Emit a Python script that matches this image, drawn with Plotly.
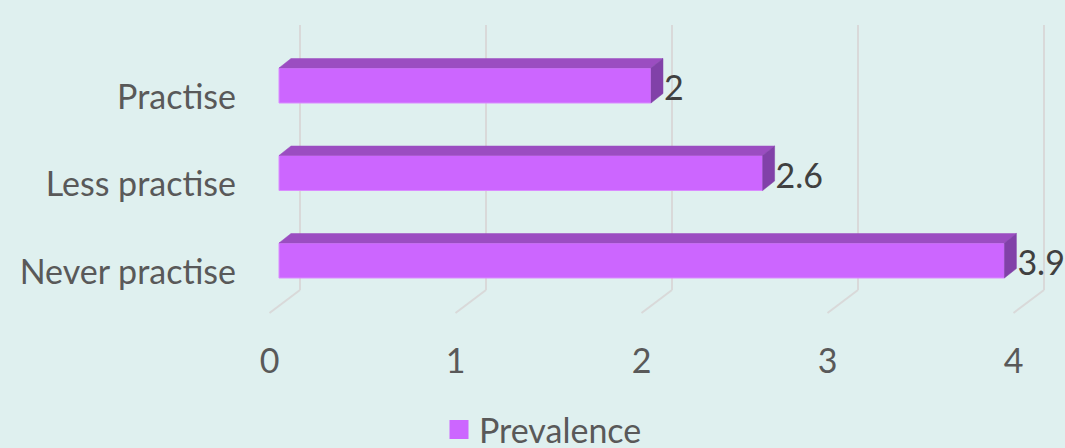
import plotly.graph_objects as go

# ---- data ----
categories = ["Never practise", "Less practise", "Practise"]
values = [3.9, 2.6, 2]
value_labels = ["3.9", "2.6", "2"]
x_ticks = [0, 1, 2, 3, 4]
series_name = "Prevalence"

# ---- styling / geometry ----
W, H = 1065, 448
L, R, T, B = 245, 0, 0, 118
pw, ph = W - L - R, H - T - B
PXU = 186.0            # pixels per x unit
PYU = 87.5             # pixels per category step
X0 = -(269.5 - L) / PXU
X1 = X0 + pw / PXU
Y1 = 2 + 97 / PYU
Y0 = Y1 - ph / PYU

def ux(px):
    return px / PXU

def uy(px):
    return px / PYU

def ypix(p):
    return Y1 - p / PYU

BG = "#DFF0EF"
FRONT = "#CC66FF"
TOP = "#9B4DC1"
SIDE = "#8141A8"
GRID = "#D9D9D9"
TXT = "#595959"
FONT = "Lato"
FS = 34

fig = go.Figure()

# back-wall gridlines + floor diagonals (from tick values), drawn below the bars
shapes = []
for k in x_ticks:
    xb = k + ux(30.5)
    shapes.append(dict(type="line", xref="x", yref="y", layer="below",
                       x0=xb, x1=xb, y0=ypix(25), y1=ypix(290),
                       line=dict(color=GRID, width=2)))
    shapes.append(dict(type="line", xref="x", yref="y", layer="below",
                       x0=xb, x1=k, y0=ypix(290), y1=ypix(313),
                       line=dict(color=GRID, width=2)))

base = ux(9.5)
bw = uy(35)
dx, dy = ux(12), uy(9.5)
ypos = [i + uy(11.5) for i in range(len(categories))]

# 3D top and side faces
for yc, v in zip(ypos, values):
    yt, yb = yc + bw / 2, yc - bw / 2
    fig.add_trace(go.Scatter(
        x=[base, base + dx, base + v + dx, base + v, base],
        y=[yt, yt + dy, yt + dy, yt, yt],
        fill="toself", fillcolor=TOP, mode="lines",
        line=dict(color=TOP, width=0.5), hoverinfo="skip", showlegend=False))
    fig.add_trace(go.Scatter(
        x=[base + v, base + v + dx, base + v + dx, base + v, base + v],
        y=[yt, yt + dy, yb + dy, yb, yt],
        fill="toself", fillcolor=SIDE, mode="lines",
        line=dict(color=SIDE, width=0.5), hoverinfo="skip", showlegend=False))

# front faces
fig.add_trace(go.Bar(
    y=ypos, x=values, base=base, orientation="h", width=bw,
    marker=dict(color=FRONT, line=dict(color="#DA8CFF", width=1)),
    showlegend=False, name=series_name))

# data labels
fig.add_trace(go.Scatter(
    x=[base + v + dx + ux(1) for v in values], y=[y - uy(6) for y in ypos],
    mode="text", text=value_labels, textposition="middle right",
    textfont=dict(family=FONT, size=FS, color="#404040"),
    cliponaxis=False, showlegend=False, hoverinfo="skip"))

# legend entry
fig.add_trace(go.Scatter(
    x=[None], y=[None], mode="markers", name=series_name,
    marker=dict(symbol="square", size=16, color=FRONT,
                line=dict(color=FRONT, width=3))))

fig.update_layout(
    width=W, height=H,
    margin=dict(l=L, r=R, t=T, b=B, autoexpand=False),
    paper_bgcolor=BG, plot_bgcolor=BG,
    font=dict(family=FONT, size=FS, color=TXT),
    shapes=shapes,
    xaxis=dict(range=[X0, X1], tickvals=x_ticks, showgrid=False,
               zeroline=False, showline=False, ticks="",
               ticklabelstandoff=8, fixedrange=True, automargin=False),
    yaxis=dict(range=[Y0, Y1], tickvals=list(range(len(categories))),
               ticktext=categories, showgrid=False, zeroline=False,
               showline=False, ticks="", ticklabelstandoff=8,
               fixedrange=True, automargin=False),
    legend=dict(orientation="h", x=(543 - L) / pw, xanchor="center",
                y=-(430 - ph) / ph, yanchor="middle",
                font=dict(family=FONT, size=FS, color=TXT),
                bgcolor="rgba(0,0,0,0)"),
    showlegend=True,
)

fig.write_html("out.html")
